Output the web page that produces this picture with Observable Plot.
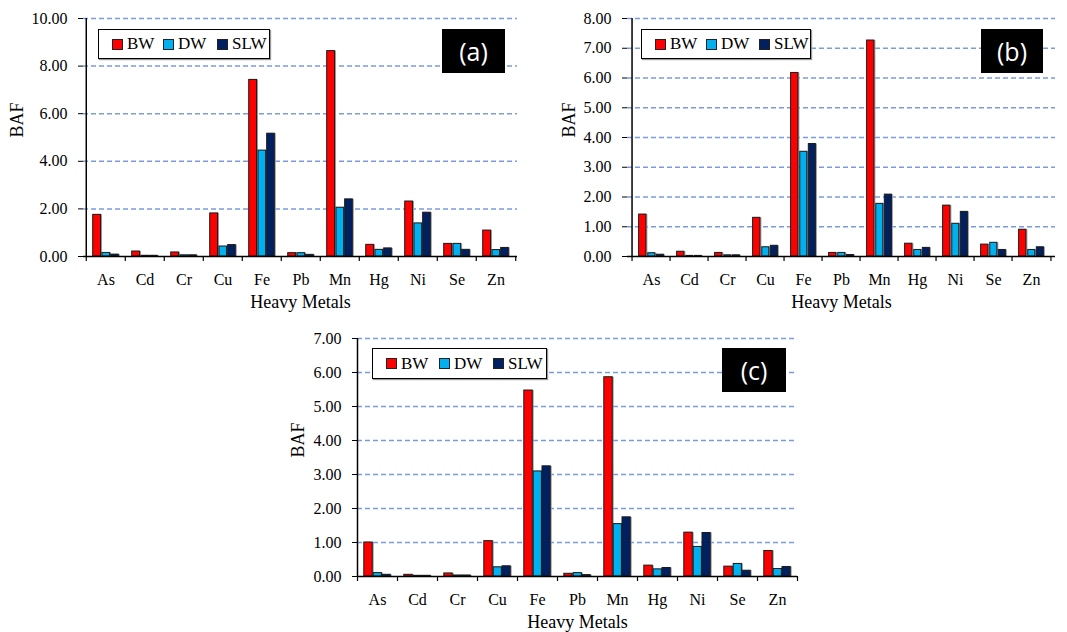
<!DOCTYPE html>
<html><head><meta charset="utf-8">
<script src="https://cdn.jsdelivr.net/npm/d3@7"></script>
<script src="https://cdn.jsdelivr.net/npm/@observablehq/plot@0.6"></script>
<style>
body{margin:0;background:#fff}
#root{position:relative;width:1067px;height:632px;overflow:hidden;background:#fff;font-family:"Liberation Serif","DejaVu Serif",serif}
.panel{position:absolute}
.legend{position:absolute;border:1px solid #000;box-shadow:1px 1px 1px #999;background:#fff;font-size:17px;color:#000;box-sizing:border-box}
.item{position:absolute;top:0;height:100%;display:flex;align-items:center;white-space:nowrap}
.sw{display:inline-block;width:9px;height:9px;border:1px solid #222;margin-right:4px}
.tag{position:absolute;background:#000;color:#fff;font-family:"Open Sans","Noto Sans","Liberation Sans",sans-serif;font-weight:400;font-size:25px;display:flex;align-items:center;justify-content:center}
</style></head>
<body><div id="root"></div>
<script>
const metals = ["As","Cd","Cr","Cu","Fe","Pb","Mn","Hg","Ni","Se","Zn"];
const series = ["BW","DW","SLW"];
const colors = ["#FF0000","#00B0F0","#002060"];

const bwA  = [1.75,0.21,0.17,1.81,7.42,0.14,8.63,0.49,2.31,0.53,1.09];
const dwA  = [0.15,0.03,0.05,0.42,4.45,0.14,2.05,0.28,1.39,0.53,0.27];
const slwA = [0.08,0.03,0.05,0.48,5.16,0.07,2.40,0.34,1.84,0.28,0.36];

const bwB  = [1.41,0.16,0.12,1.30,6.17,0.12,7.26,0.43,1.71,0.40,0.90];
const dwB  = [0.11,0.02,0.04,0.31,3.52,0.12,1.77,0.22,1.10,0.46,0.22];
const slwB = [0.06,0.02,0.04,0.36,3.78,0.05,2.08,0.29,1.50,0.22,0.31];

const bwC  = [1.00,0.05,0.09,1.04,5.47,0.08,5.86,0.32,1.29,0.29,0.75];
const dwC  = [0.10,0.02,0.03,0.27,3.09,0.10,1.54,0.21,0.87,0.37,0.22];
const slwC = [0.05,0.02,0.03,0.30,3.24,0.04,1.74,0.25,1.28,0.17,0.28];

const yTicksA = [0,2,4,6,8,10];
const yTicksB = [0,1,2,3,4,5,6,7,8];
const yTicksC = [0,1,2,3,4,5,6,7];

const xTitle = "Heavy Metals";
const yTitle = "BAF";
const tags = ["(a)","(b)","(c)"];

const panels = [
  {vals:[bwA,dwA,slwA], ticks:yTicksA, tag:tags[0], left:0, top:0, width:530, height:320, mL:83, mR:13, mT:18, mB:64, yLabDx:-66,
   legend:{left:98,top:29,width:172,height:30,pos:[13,64,118]}, box:{left:442,top:29,width:63,height:44}},
  {vals:[bwB,dwB,slwB], ticks:yTicksB, tag:tags[1], left:530, top:0, width:537, height:320, mL:97, mR:12, mT:18, mB:64, yLabDx:-58,
   legend:{left:641,top:29,width:170,height:30,pos:[13,64,117]}, box:{left:981,top:29,width:62,height:44}},
  {vals:[bwC,dwC,slwC], ticks:yTicksC, tag:tags[2], left:280, top:320, width:525, height:312, mL:77, mR:8, mT:18, mB:56, yLabDx:-59,
   legend:{left:372,top:348,width:175,height:31,pos:[13,66,120]}, box:{left:722,top:348,width:64,height:44}}
];

const root = document.getElementById("root");
const insets = [[0.17,0.62],[0.405,0.39],[0.625,0.17]];

panels.forEach(p => {
  const bw = (p.width - p.mL - p.mR) / metals.length;
  const rows = series.map((s, j) => metals.map((m, i) => ({metal: m, series: s, value: p.vals[j][i]})));
  const shadows = rows.map((d, j) => Plot.barY(d, {x: "metal", y: "value", insetLeft: insets[j][0]*bw, insetRight: insets[j][1]*bw, fill: "#9c9c9c", dx: 1.5}));
  const bars = rows.map((d, j) => Plot.barY(d, {x: "metal", y: "value", insetLeft: insets[j][0]*bw, insetRight: insets[j][1]*bw, fill: colors[j], stroke: "#1a1a1a", strokeWidth: 1}));
  const chart = Plot.plot({
    width: p.width, height: p.height,
    marginLeft: p.mL, marginRight: p.mR, marginTop: p.mT, marginBottom: p.mB,
    style: {fontFamily: "'Liberation Serif','DejaVu Serif',serif", fontSize: "16px", color: "#000", background: "transparent", overflow: "visible"},
    x: {domain: metals, padding: 0, tickSize: 0, tickPadding: 17, label: null},
    y: {domain: [0, p.ticks[p.ticks.length-1]], ticks: p.ticks, tickFormat: d3.format(".2f"), tickSize: 5, tickPadding: 11, label: null},
    marks: [
      Plot.ruleY(p.ticks.filter(t => t > 0), {stroke: "#7A9CDB", strokeWidth: 1.5, strokeDasharray: "5,3"}),
      ...shadows,
      ...bars,
      Plot.ruleY([0], {stroke: "#000", strokeWidth: 1.5}),
      Plot.ruleX([metals[0]], {x: d => d, dx: -bw/2, stroke: "#000", strokeWidth: 1.5}),
      Plot.ruleX(metals, {x: d => d, y1: 0, y2: 0, dx: -bw/2, insetBottom: -5, stroke: "#000", strokeWidth: 1.2}),
      Plot.ruleX([metals[metals.length-1]], {x: d => d, y1: 0, y2: 0, dx: bw/2, insetBottom: -5, stroke: "#000", strokeWidth: 1.2}),
      Plot.text([xTitle], {frameAnchor: "bottom", dy: 51, text: d => d, fontSize: 18}),
      Plot.text([yTitle], {frameAnchor: "left", rotate: -90, dx: p.yLabDx, text: d => d, fontSize: 18})
    ]
  });
  const wrap = document.createElement("div");
  wrap.className = "panel";
  wrap.style.left = p.left + "px";
  wrap.style.top = p.top + "px";
  wrap.appendChild(chart);
  root.appendChild(wrap);

  const lg = document.createElement("div");
  lg.className = "legend";
  Object.assign(lg.style, {left: p.legend.left+"px", top: p.legend.top+"px", width: p.legend.width+"px", height: p.legend.height+"px"});
  series.forEach((s, j) => {
    const it = document.createElement("div");
    it.className = "item";
    it.style.left = p.legend.pos[j] + "px";
    const sw = document.createElement("span");
    sw.className = "sw";
    sw.style.background = colors[j];
    it.appendChild(sw);
    it.appendChild(document.createTextNode(s));
    lg.appendChild(it);
  });
  root.appendChild(lg);

  const tg = document.createElement("div");
  tg.className = "tag";
  Object.assign(tg.style, {left: p.box.left+"px", top: p.box.top+"px", width: p.box.width+"px", height: p.box.height+"px"});
  tg.textContent = p.tag;
  root.appendChild(tg);
});
</script>
</body></html>
